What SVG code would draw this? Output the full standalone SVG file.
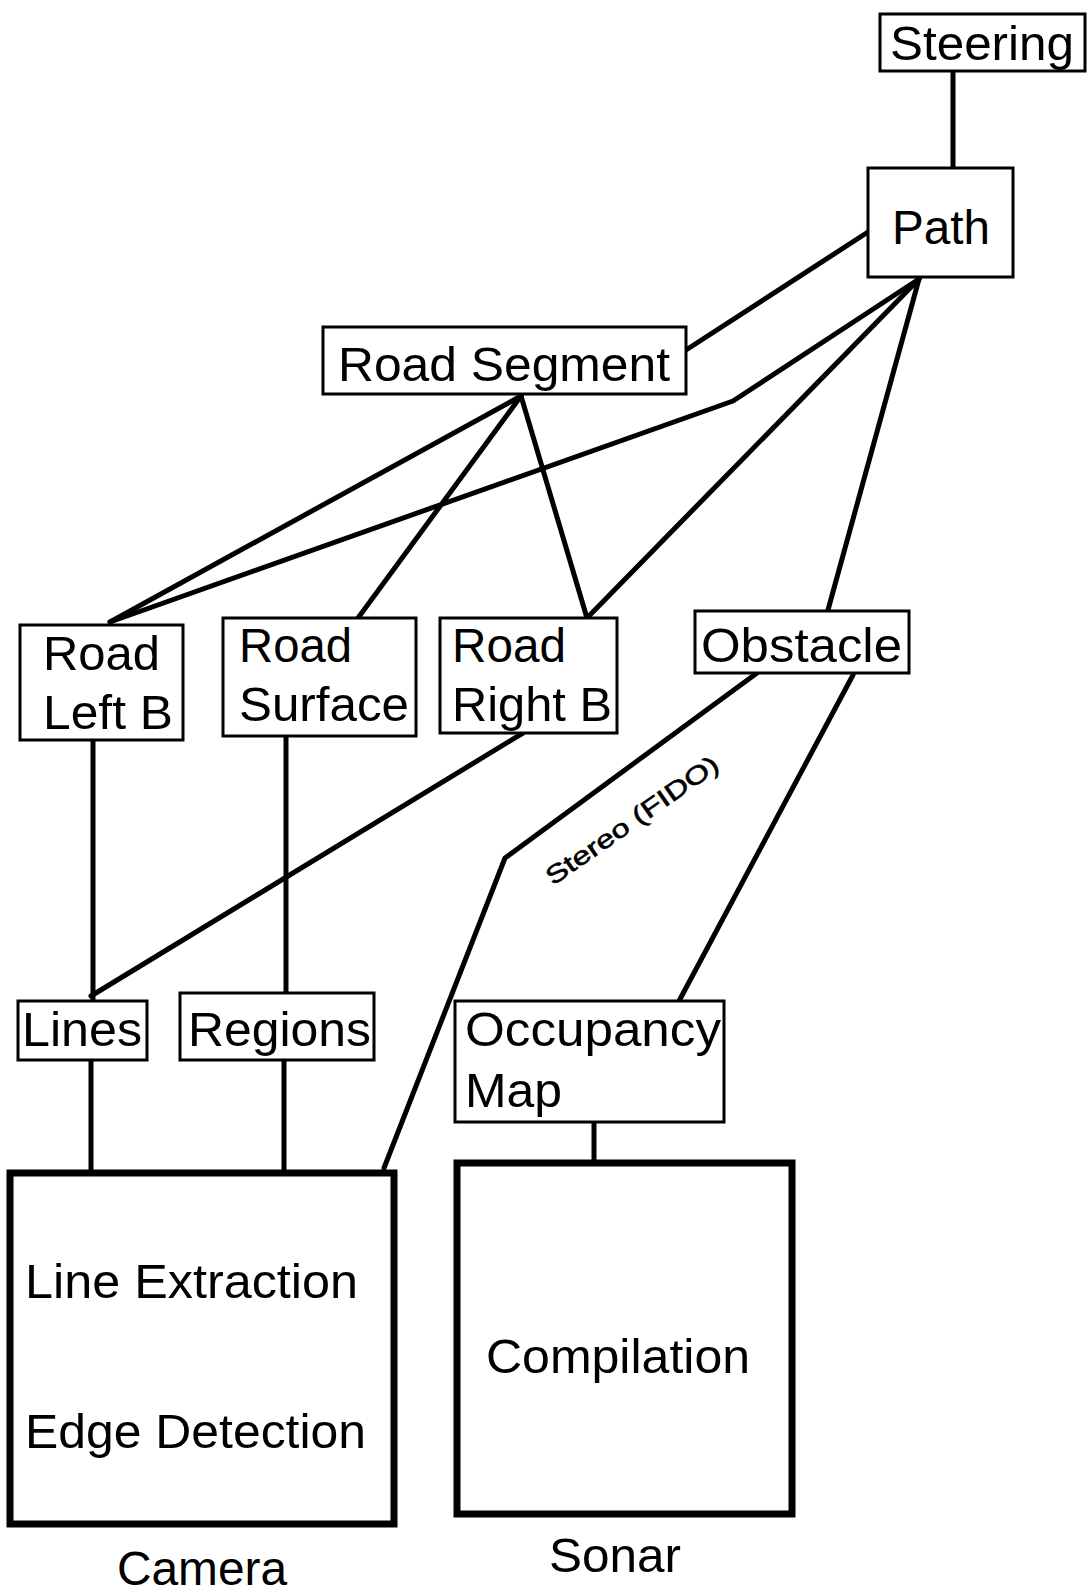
<svg xmlns="http://www.w3.org/2000/svg" width="1091" height="1593" viewBox="0 0 1091 1593">
<style>
.box{fill:#fff;stroke:#000;stroke-width:3}
.big{fill:#fff;stroke:#000;stroke-width:7}
.t{font-family:"Liberation Sans",Arial,sans-serif;font-size:48px;fill:#000}
.s{font-family:"Liberation Sans",Arial,sans-serif;font-size:25px;fill:#000;stroke:#000;stroke-width:0.6}
.c{fill:none;stroke:#000;stroke-width:5;stroke-linejoin:round;stroke-linecap:round}
</style>
<rect width="1091" height="1593" fill="#fff"/>
<g id="connectors">
<line class="c" x1="953" y1="71" x2="953" y2="168"/>
<line class="c" x1="868" y1="232" x2="686" y2="350"/>
<line class="c" x1="521" y1="396" x2="110" y2="622"/>
<line class="c" x1="521" y1="396" x2="358" y2="618"/>
<line class="c" x1="521" y1="396" x2="587" y2="618"/>
<polyline class="c" points="919,279 733,401 110,622"/>
<line class="c" x1="919" y1="279" x2="587" y2="618"/>
<line class="c" x1="919" y1="279" x2="828" y2="610"/>
<line class="c" x1="93" y1="740" x2="93" y2="1001"/>
<line class="c" x1="523" y1="733" x2="91" y2="996"/>
<line class="c" x1="286" y1="736" x2="286" y2="993"/>
<line class="c" x1="91" y1="1060" x2="91" y2="1173"/>
<line class="c" x1="284" y1="1060" x2="284" y2="1173"/>
<polyline class="c" points="757,673 505,858 384,1168"/>
<line class="c" x1="853" y1="675" x2="679" y2="1001"/>
<line class="c" x1="594" y1="1122" x2="594" y2="1163"/>
<text class="s" transform="translate(553,886) rotate(-35)" textLength="205" lengthAdjust="spacingAndGlyphs">Stereo (FIDO)</text>
</g>
<g id="steering"><rect class="box" x="880" y="14" width="205" height="57"/><text class="t" x="890" y="60" textLength="184" lengthAdjust="spacingAndGlyphs">Steering</text></g>
<g id="path"><rect class="box" x="868" y="168" width="145" height="109"/><text class="t" x="892" y="244" textLength="98" lengthAdjust="spacingAndGlyphs">Path</text></g>
<g id="road-segment"><rect class="box" x="323" y="327" width="363" height="67"/><text class="t" x="338" y="381" textLength="332" lengthAdjust="spacingAndGlyphs">Road Segment</text></g>
<g id="road-left-b"><rect class="box" x="20" y="625" width="163" height="115"/><text class="t" x="43" y="670" textLength="117" lengthAdjust="spacingAndGlyphs">Road</text><text class="t" x="43" y="729" textLength="130" lengthAdjust="spacingAndGlyphs">Left B</text></g>
<g id="road-surface"><rect class="box" x="223" y="618" width="193" height="118"/><text class="t" x="239" y="662" textLength="113" lengthAdjust="spacingAndGlyphs">Road</text><text class="t" x="239" y="721" textLength="170" lengthAdjust="spacingAndGlyphs">Surface</text></g>
<g id="road-right-b"><rect class="box" x="440" y="618" width="177" height="115"/><text class="t" x="452" y="662" textLength="114" lengthAdjust="spacingAndGlyphs">Road</text><text class="t" x="452" y="721" textLength="160" lengthAdjust="spacingAndGlyphs">Right B</text></g>
<g id="obstacle"><rect class="box" x="695" y="611" width="214" height="62"/><text class="t" x="701" y="662" textLength="201" lengthAdjust="spacingAndGlyphs">Obstacle</text></g>
<g id="lines"><rect class="box" x="18" y="1001" width="129" height="59"/><text class="t" x="22" y="1046" textLength="120" lengthAdjust="spacingAndGlyphs">Lines</text></g>
<g id="regions"><rect class="box" x="180" y="993" width="194" height="67"/><text class="t" x="188" y="1046" textLength="183" lengthAdjust="spacingAndGlyphs">Regions</text></g>
<g id="occupancy-map"><rect class="box" x="455" y="1001" width="269" height="121"/><text class="t" x="465" y="1046" textLength="256" lengthAdjust="spacingAndGlyphs">Occupancy</text><text class="t" x="465" y="1107" textLength="97" lengthAdjust="spacingAndGlyphs">Map</text></g>
<g id="camera"><rect class="big" x="10" y="1173" width="384" height="351"/><text class="t" x="25" y="1298" textLength="333" lengthAdjust="spacingAndGlyphs">Line Extraction</text><text class="t" x="25" y="1448" textLength="341" lengthAdjust="spacingAndGlyphs">Edge Detection</text><text class="t" x="117" y="1585" textLength="170" lengthAdjust="spacingAndGlyphs">Camera</text></g>
<g id="sonar"><rect class="big" x="457" y="1163" width="335" height="351"/><text class="t" x="486" y="1373" textLength="264" lengthAdjust="spacingAndGlyphs">Compilation</text><text class="t" x="549" y="1572" textLength="132" lengthAdjust="spacingAndGlyphs">Sonar</text></g>
</svg>
